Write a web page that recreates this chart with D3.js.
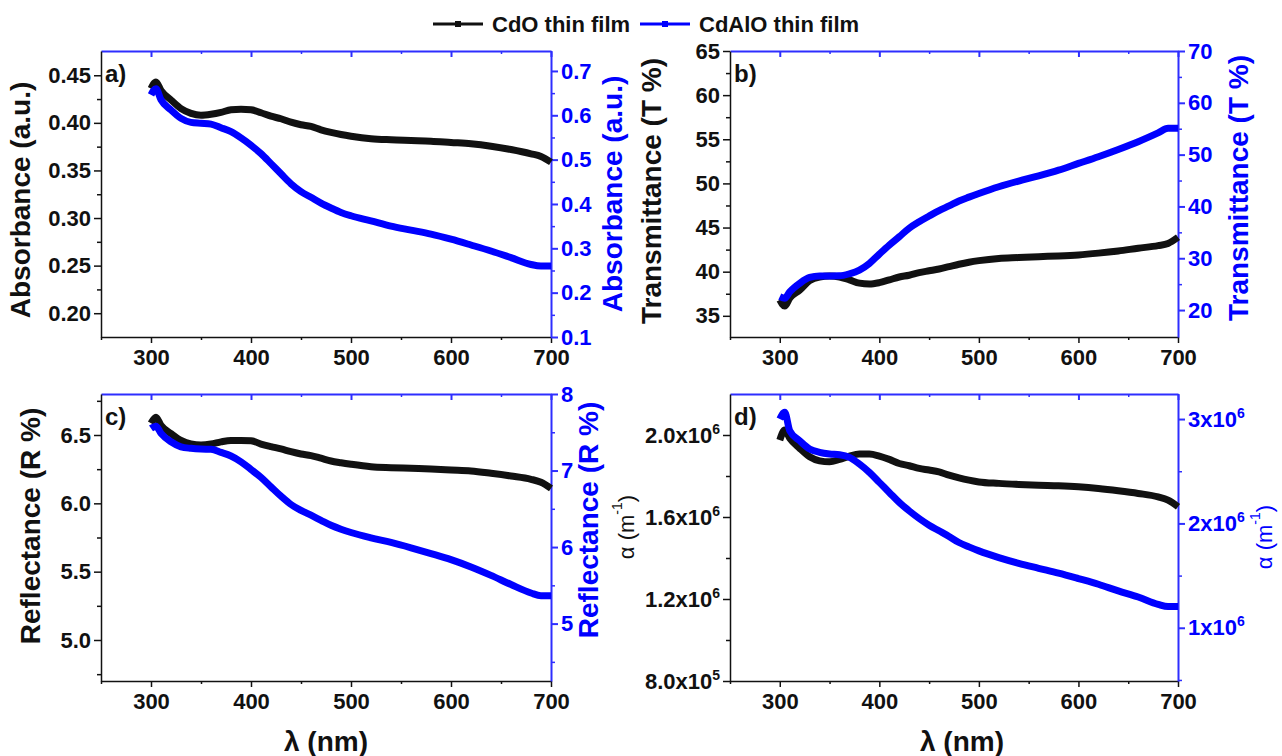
<!DOCTYPE html>
<html lang="en">
<head>
<meta charset="UTF-8">
<title>Optical properties</title>
<script src="https://cdnjs.cloudflare.com/ajax/libs/d3/7.8.5/d3.min.js"></script>
<style>
  body { margin: 0; background: #fff; }
  svg { display: block; font-family: "Liberation Sans", Arial, sans-serif; }
  .tick text { font-weight: bold; font-size: 22px; }
</style>
</head>
<body>
<script>
// wavelength (nm), shared by every series
const wavelength = [300, 305, 310, 320, 330, 340, 350, 360, 370, 380, 390, 400, 410, 420, 430, 440, 450, 460, 470, 480, 490, 500, 520, 540, 560, 580, 600, 620, 640, 660, 680, 690, 700];

const absCdO = [0.436, 0.443, 0.434, 0.424, 0.415, 0.410, 0.408, 0.409, 0.411, 0.4138, 0.4144, 0.4138, 0.4106, 0.407, 0.4043, 0.4007, 0.398, 0.3962, 0.3927, 0.390, 0.3878, 0.386, 0.3833, 0.3822, 0.3815, 0.3808, 0.3794, 0.378, 0.3755, 0.372, 0.3675, 0.3647, 0.3587];
const absCdAlO = [0.646, 0.66, 0.635, 0.612, 0.593, 0.584, 0.582, 0.580, 0.572, 0.563, 0.549, 0.5325, 0.5136, 0.491, 0.468, 0.4455, 0.428, 0.415, 0.402, 0.391, 0.381, 0.3735, 0.362, 0.350, 0.341, 0.332, 0.3205, 0.3075, 0.294, 0.279, 0.2636, 0.260, 0.260];

const transCdO = [36.8, 36.1, 37.0, 37.9, 39.0, 39.4, 39.5, 39.4, 39.07, 38.7, 38.6, 38.76, 39.07, 39.4, 39.6, 39.9, 40.1, 40.3, 40.57, 40.84, 41.07, 41.25, 41.5, 41.6, 41.7, 41.78, 41.9, 42.1, 42.35, 42.66, 42.95, 43.2, 43.9];
const transCdAlO = [22.6, 22.3, 23.5, 25.15, 26.3, 26.57, 26.57, 26.6, 27.0, 27.7, 29.0, 30.8, 32.55, 34.15, 35.8, 37.05, 38.15, 39.2, 40.1, 41.05, 41.8, 42.5, 43.8, 44.9, 45.9, 47.0, 48.3, 49.6, 51.0, 52.5, 54.2, 55.1, 55.1];

const reflCdO = [6.586, 6.63, 6.57, 6.51, 6.46, 6.434, 6.427, 6.434, 6.45, 6.46, 6.46, 6.458, 6.434, 6.415, 6.398, 6.378, 6.361, 6.349, 6.33, 6.31, 6.297, 6.286, 6.268, 6.261, 6.256, 6.251, 6.244, 6.237, 6.22, 6.2, 6.176, 6.154, 6.11];
const reflCdAlO = [7.55, 7.58, 7.485, 7.376, 7.31, 7.29, 7.28, 7.277, 7.237, 7.19, 7.114, 7.014, 6.91, 6.787, 6.665, 6.556, 6.48, 6.416, 6.35, 6.285, 6.233, 6.19, 6.12, 6.06, 5.99, 5.915, 5.836, 5.74, 5.63, 5.51, 5.4, 5.365, 5.365];

const alphaCdO = [1.975e6, 2.024e6, 1.984e6, 1.935e6, 1.894e6, 1.874e6, 1.869e6, 1.881e6, 1.897e6, 1.907e6, 1.907e6, 1.897e6, 1.881e6, 1.861e6, 1.85e6, 1.837e6, 1.829e6, 1.82e6, 1.804e6, 1.791e6, 1.78e6, 1.771e6, 1.764e6, 1.759e6, 1.755e6, 1.752e6, 1.747e6, 1.739e6, 1.728e6, 1.715e6, 1.698e6, 1.682e6, 1.65e6];
const alphaCdAlO = [3.0e6, 3.064e6, 2.888e6, 2.792e6, 2.713e6, 2.681e6, 2.665e6, 2.658e6, 2.633e6, 2.569e6, 2.489e6, 2.393e6, 2.297e6, 2.201e6, 2.12e6, 2.047e6, 1.983e6, 1.929e6, 1.875e6, 1.817e6, 1.775e6, 1.737e6, 1.673e6, 1.618e6, 1.57e6, 1.523e6, 1.471e6, 1.417e6, 1.353e6, 1.295e6, 1.225e6, 1.203e6, 1.203e6];

// tick labels
const xTicks = [300, 400, 500, 600, 700];
const xMinor = [250, 350, 450, 550, 650];
const aLeftTicks = [0.20, 0.25, 0.30, 0.35, 0.40, 0.45];
const aRightTicks = [0.1, 0.2, 0.3, 0.4, 0.5, 0.6, 0.7];
const bLeftTicks = [35, 40, 45, 50, 55, 60, 65];
const bRightTicks = [20, 30, 40, 50, 60, 70];
const cLeftTicks = [5.0, 5.5, 6.0, 6.5];
const cRightTicks = [5, 6, 7, 8];
const dLeftTicks = [8e5, 1.2e6, 1.6e6, 2.0e6];
const dRightTicks = [1e6, 2e6, 3e6];

const seriesNames = ['CdO thin film', 'CdAlO thin film'];
const black = '#111', blue = '#0000ff', axisBlue = '#2e2eff';

const W = 1282, H = 756;
const svg = d3.select('body').append('svg').attr('width', W).attr('height', H);

function sci(v) {
    // "2.0x10^6" style labels
    const e = Math.floor(Math.log10(v));
    const m = v / Math.pow(10, e);
    return [m, e];
}

function drawPanel(p) {
    const x = d3.scaleLinear().domain([250, 700]).range([p.x0, p.x1]);
    const yL = d3.scaleLinear().domain(p.leftDomain).range([p.y1, p.y0]);
    const yR = d3.scaleLinear().domain(p.rightDomain).range([p.y1, p.y0]);
    const g = svg.append('g');

    // top border with inward ticks (blue)
    g.append('g').attr('transform', `translate(0,${p.y0})`)
        .call(d3.axisTop(x).tickValues(xTicks).tickSize(-6).tickSizeOuter(0).tickFormat(''))
        .call(s => s.selectAll('line,path').attr('stroke', axisBlue).attr('stroke-width', 2));
    g.append('g').attr('transform', `translate(0,${p.y0})`)
        .call(d3.axisTop(x).tickValues(xMinor.filter(v => v > 250)).tickSize(-3).tickSizeOuter(0).tickFormat(''))
        .call(s => s.selectAll('line').attr('stroke', axisBlue).attr('stroke-width', 1.5))
        .call(s => s.select('.domain').remove());

    // bottom axis
    const xa = g.append('g').attr('transform', `translate(0,${p.y1})`)
        .call(d3.axisBottom(x).tickValues(xTicks).tickSize(6).tickPadding(6).tickSizeOuter(0));
    xa.selectAll('line,path').attr('stroke', black).attr('stroke-width', 1.5);
    xa.selectAll('text').attr('fill', black);
    g.append('g').attr('transform', `translate(0,${p.y1})`)
        .call(d3.axisBottom(x).tickValues(xMinor).tickSize(3).tickFormat(''))
        .call(s => s.select('.domain').remove())
        .call(s => s.selectAll('line').attr('stroke', black).attr('stroke-width', 1.5));

    // left axis
    const la = g.append('g').attr('transform', `translate(${p.x0},0)`)
        .call(d3.axisLeft(yL).tickValues(p.leftTicks).tickSize(7).tickPadding(3).tickSizeOuter(0).tickFormat(p.leftFormat || (() => '')));
    la.selectAll('line,path').attr('stroke', black).attr('stroke-width', 1.5);
    la.selectAll('text').attr('fill', black);
    g.append('g').attr('transform', `translate(${p.x0},0)`)
        .call(d3.axisLeft(yL).tickValues(p.leftMinor).tickSize(4).tickFormat(''))
        .call(s => s.select('.domain').remove())
        .call(s => s.selectAll('line').attr('stroke', black).attr('stroke-width', 1.5));

    // right axis (blue)
    const ra = g.append('g').attr('transform', `translate(${p.x1},0)`)
        .call(d3.axisRight(yR).tickValues(p.rightTicks).tickSize(7).tickPadding(3).tickSizeOuter(0).tickFormat(p.rightFormat || (() => '')));
    ra.selectAll('line,path').attr('stroke', axisBlue).attr('stroke-width', 2);
    ra.selectAll('text').attr('fill', blue);
    g.append('g').attr('transform', `translate(${p.x1},0)`)
        .call(d3.axisRight(yR).tickValues(p.rightMinor).tickSize(4).tickFormat(''))
        .call(s => s.select('.domain').remove())
        .call(s => s.selectAll('line').attr('stroke', axisBlue).attr('stroke-width', 1.5));

    // sci labels with superscripts
    if (p.sci) {
        [[la, p.leftTicks, 1], [ra, p.rightTicks, 0]].forEach(([axis, ticks, fixed]) => {
            axis.selectAll('.tick text').each(function (d) {
                const [m, e] = sci(d);
                const t = d3.select(this).text(null);
                t.append('tspan').text((fixed ? m.toFixed(1) : Math.round(m)) + 'x10');
                t.append('tspan').attr('font-size', 14).attr('dy', -9).text(e);
            });
        });
    }

    // curves
    const series = [[p.cdo, yL, black], [p.cdalo, yR, blue]];
    series.forEach(([vals, y, col]) => {
        const line = d3.line().x((d, i) => x(wavelength[i])).y(d => y(d)).curve(d3.curveMonotoneX);
        g.append('path').datum(vals).attr('d', line)
            .attr('fill', 'none').attr('stroke', col).attr('stroke-width', 7).attr('stroke-linejoin', 'round');
    });

    // panel letter
    g.append('text').attr('x', p.x0 + 4).attr('y', p.y0 + 31)
        .attr('font-size', 24).attr('font-weight', 'bold').attr('fill', black).text(p.letter);

    // axis titles
    p.titles.forEach(t => {
        const tx = g.append('text')
            .attr('transform', `translate(${t.x},${t.y}) rotate(-90)`)
            .attr('text-anchor', 'middle').attr('dominant-baseline', 'central')
            .attr('font-size', t.size || 28).attr('font-weight', t.weight || 'bold')
            .attr('fill', t.color);
        if (t.alpha) {
            tx.append('tspan').text('\u03b1 (m');
            tx.append('tspan').attr('font-size', 14).attr('dy', -9).text('-1');
            tx.append('tspan').attr('dy', 9).text(')');
        } else {
            tx.text(t.text);
        }
    });
}

const panels = [
    {
        letter: 'a)', x0: 101, x1: 551, y0: 51, y1: 337,
        leftDomain: [0.175, 0.4755], rightDomain: [0.1, 0.745],
        leftTicks: aLeftTicks, leftMinor: [0.225, 0.275, 0.325, 0.375, 0.425], leftFormat: d3.format('.2f'),
        rightTicks: aRightTicks, rightMinor: [0.15, 0.25, 0.35, 0.45, 0.55, 0.65], rightFormat: d3.format('.1f'),
        cdo: absCdO, cdalo: absCdAlO,
        titles: [
            { x: 20, y: 200, text: 'Absorbance (a.u.)', color: black },
            { x: 612, y: 194, text: 'Absorbance (a.u.)', color: blue }
        ]
    },
    {
        letter: 'b)', x0: 730, x1: 1178, y0: 51, y1: 337,
        leftDomain: [32.6, 65], rightDomain: [14.8, 70],
        leftTicks: bLeftTicks, leftMinor: [37.5, 42.5, 47.5, 52.5, 57.5, 62.5], leftFormat: d3.format('d'),
        rightTicks: bRightTicks, rightMinor: [25, 35, 45, 55, 65], rightFormat: d3.format('d'),
        cdo: transCdO, cdalo: transCdAlO,
        titles: [
            { x: 651, y: 191, text: 'Transmittance (T %)', color: black },
            { x: 1238, y: 188, text: 'Transmittance (T %)', color: blue }
        ]
    },
    {
        letter: 'c)', x0: 101, x1: 551, y0: 394, y1: 681,
        leftDomain: [4.7, 6.8], rightDomain: [4.25, 8],
        leftTicks: cLeftTicks, leftMinor: [4.75, 5.25, 5.75, 6.25, 6.75], leftFormat: d3.format('.1f'),
        rightTicks: cRightTicks, rightMinor: [4.5, 5.5, 6.5, 7.5], rightFormat: d3.format('d'),
        cdo: reflCdO, cdalo: reflCdAlO,
        titles: [
            { x: 30, y: 526, text: 'Reflectance (R %)', color: black },
            { x: 588, y: 520, text: 'Reflectance (R %)', color: blue }
        ]
    },
    {
        letter: 'd)', x0: 730, x1: 1178, y0: 394, y1: 681, sci: true,
        leftDomain: [0.8e6, 2.2e6], rightDomain: [0.49e6, 3.24e6],
        leftTicks: dLeftTicks, leftMinor: [1.0e6, 1.4e6, 1.8e6], leftFormat: d3.format('d'),
        rightTicks: dRightTicks, rightMinor: [0.5e6, 1.5e6, 2.5e6], rightFormat: d3.format('d'),
        cdo: alphaCdO, cdalo: alphaCdAlO,
        titles: [
            { x: 626, y: 527, alpha: true, color: black, size: 22, weight: 'normal' },
            { x: 1264, y: 537, alpha: true, color: blue, size: 22, weight: 'normal' }
        ]
    }
];

panels.forEach(drawPanel);

// x-axis titles under bottom panels
[[326, 741], [962, 741]].forEach(([cx, cy]) => {
    svg.append('text').attr('x', cx).attr('y', cy)
        .attr('text-anchor', 'middle').attr('dominant-baseline', 'central')
        .attr('font-size', 28).attr('font-weight', 'bold').attr('fill', black)
        .text('\u03bb (nm)');
});

// legend
const legend = svg.append('g');
const legendX = [433, 640];
seriesNames.forEach((name, i) => {
    const col = i === 0 ? black : blue;
    const lx = legendX[i];
    legend.append('line').attr('x1', lx).attr('x2', lx + 50).attr('y1', 24).attr('y2', 24)
        .attr('stroke', col).attr('stroke-width', 3);
    legend.append('rect').attr('x', lx + 22).attr('y', 21).attr('width', 6).attr('height', 6).attr('fill', col);
    legend.append('text').attr('x', lx + 59).attr('y', 24).attr('dominant-baseline', 'central')
        .attr('font-size', 22).attr('font-weight', 'bold').attr('fill', black).text(name);
});
</script>
</body>
</html>
